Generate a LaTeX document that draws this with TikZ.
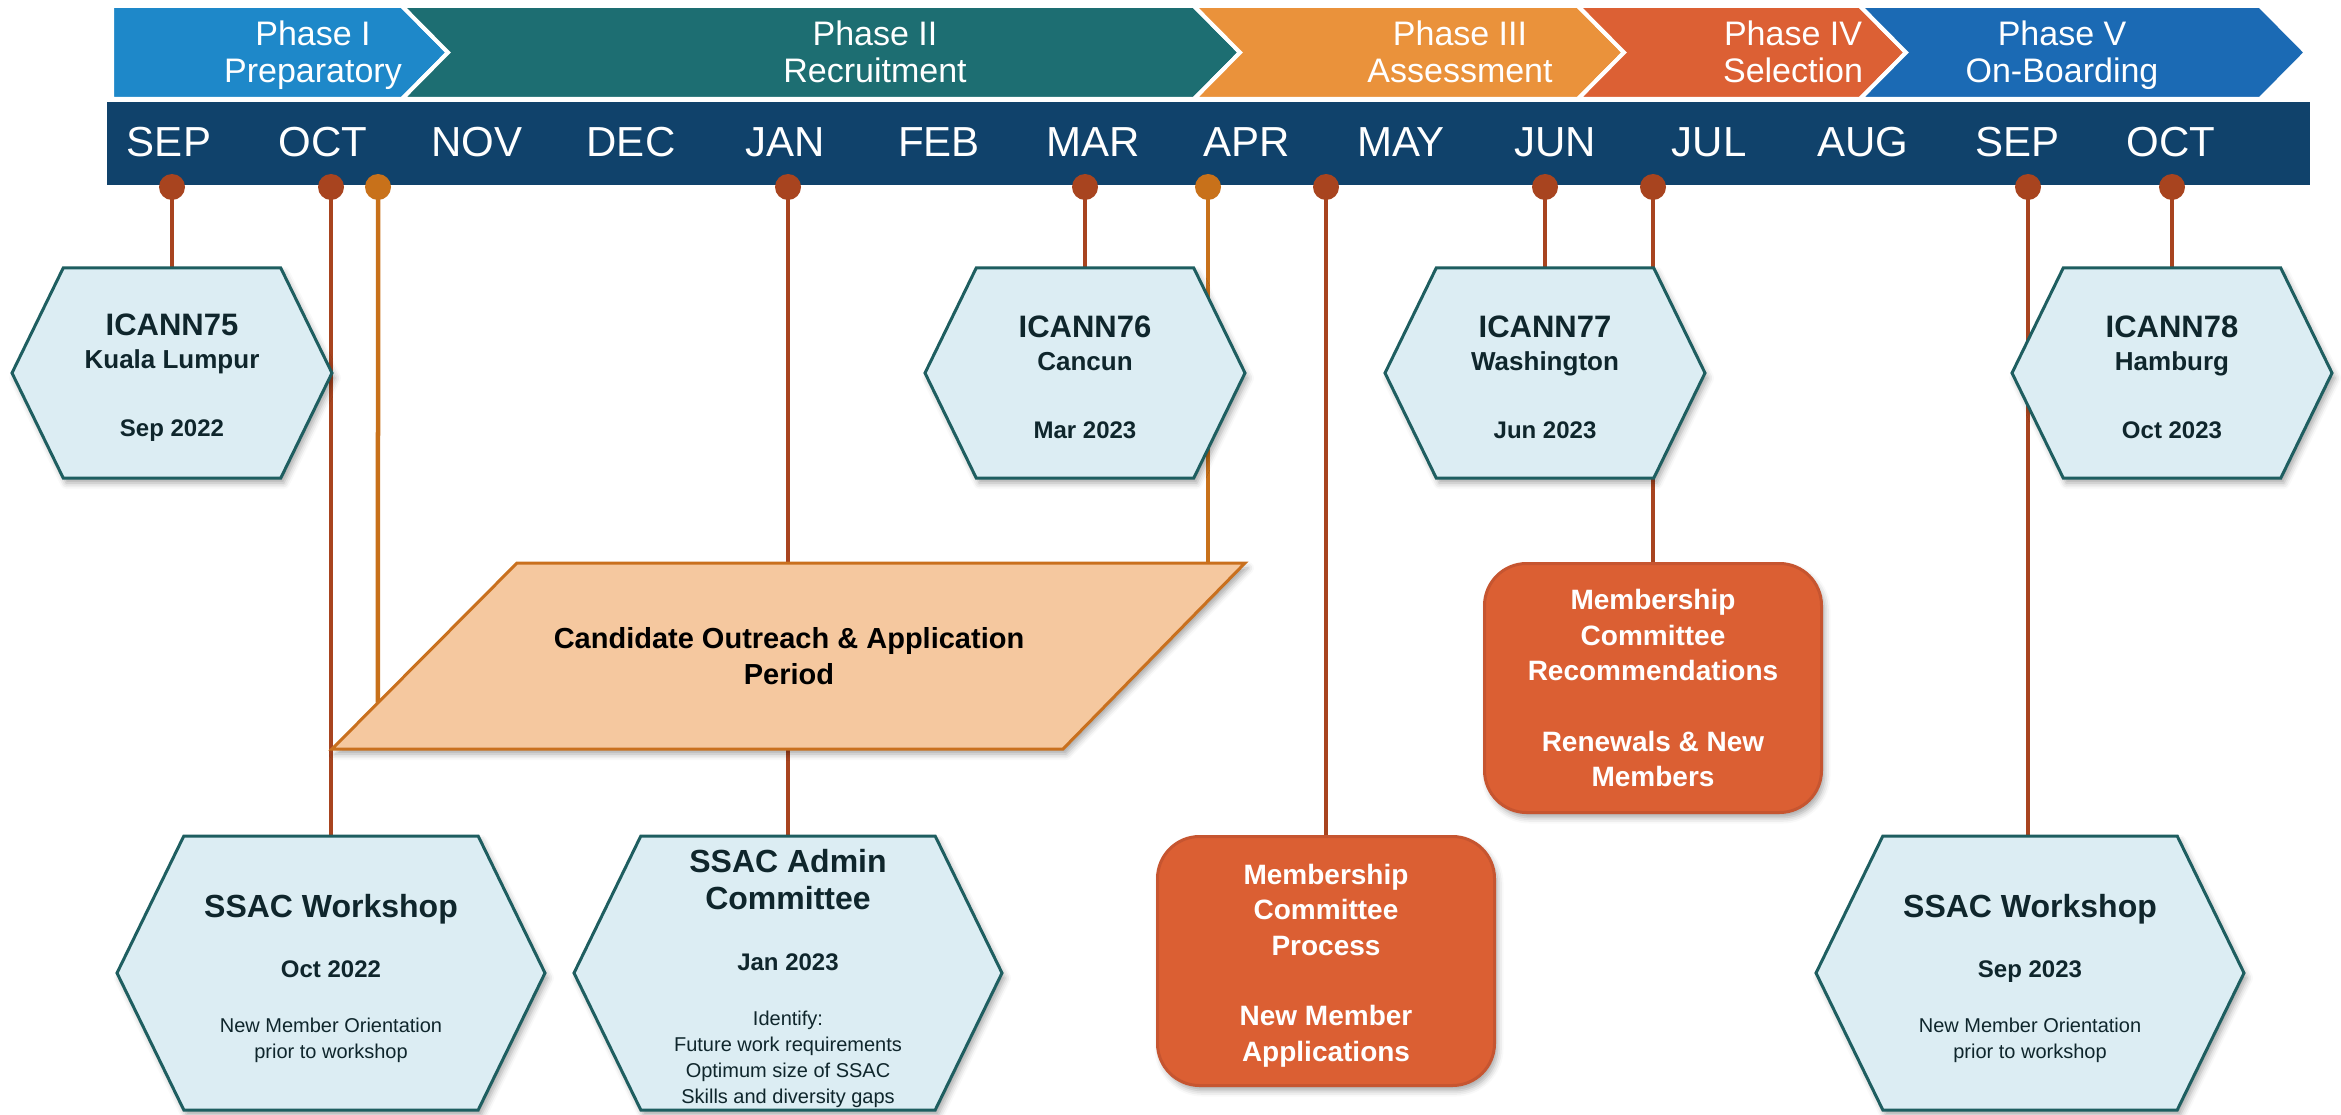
\documentclass[tikz,border=0pt]{standalone}
\usepackage{fontspec}
\setmainfont{Liberation Sans}
\usetikzlibrary{shapes.symbols,shadows.blur}

\definecolor{navy}{HTML}{10426B}
\definecolor{phone}{HTML}{1E88C9}
\definecolor{phtwo}{HTML}{1D6E72}
\definecolor{phthree}{HTML}{EA923B}
\definecolor{phfour}{HTML}{DC6034}
\definecolor{phfive}{HTML}{1B6AB4}
\definecolor{hexfill}{HTML}{DCEDF3}
\definecolor{hexline}{HTML}{1E5E60}
\definecolor{textdark}{HTML}{0F262C}
\definecolor{parafill}{HTML}{F5C89F}
\definecolor{paraline}{HTML}{C9701E}
\definecolor{boxfill}{HTML}{DB5F33}
\definecolor{boxline}{HTML}{C65530}
\definecolor{dotred}{HTML}{A8441F}
\definecolor{dotorange}{HTML}{C8711A}

\pgfdeclarelayer{bg}
\pgfsetlayers{bg,main}

% taller first line, pushes the text block down a little
\newcommand{\highstrut}[1]{\rule{0pt}{#1}}

\tikzset{
  softshadow/.style={blur shadow={shadow xshift=3pt, shadow yshift=-5pt, shadow blur radius=6pt, shadow opacity=35}},
  hexa/.style={shape=signal, signal to=west and east, signal pointer angle=128,
    draw=hexline, line width=3pt, fill=hexfill, text=textdark, inner sep=0pt,
    minimum width=320pt, minimum height=210pt, align=center,
    font=\bfseries\fontsize{24}{33}\selectfont, softshadow},
  bighexa/.style={hexa, minimum width=428pt, minimum height=274pt,
    font=\fontsize{20}{26}\selectfont},
  mcbox/.style={rectangle, rounded corners=42pt, draw=boxline, line width=3pt,
    fill=boxfill, text=white, minimum width=337pt, minimum height=249pt,
    align=center, font=\bfseries\fontsize{28}{35.5}\selectfont, softshadow},
  outreachshape/.style={draw=paraline, line width=3pt, fill=parafill, softshadow},
  outreachtext/.style={align=center, font=\bfseries\fontsize{29}{36}\selectfont},
  phaselabel/.style={text=white, align=center, font=\fontsize{34}{37}\selectfont},
  monthlabel/.style={text=white, anchor=base, font=\fontsize{42}{42}\selectfont},
  mdot/.style={circle, fill=dotred, minimum size=26pt, inner sep=0pt},
  odot/.style={mdot, fill=dotorange},
  redline/.style={draw=dotred, line width=4.5pt},
  orangeline/.style={draw=dotorange, line width=4.5pt}
}

\begin{document}
\begin{tikzpicture}[x=1pt,y=-1pt]
\useasboundingbox (0,0) rectangle (2341,1115);

% phases
\filldraw[fill=phone, draw=white, line width=4pt] (112,6) -- (402,6) -- (448,52.5) -- (402,99) -- (112,99) -- cycle;
\filldraw[fill=phtwo, draw=white, line width=4pt] (402,6) -- (1194,6) -- (1240,52.5) -- (1194,99) -- (402,99) -- (448,52.5) -- cycle;
\filldraw[fill=phthree, draw=white, line width=4pt] (1194,6) -- (1578,6) -- (1624,52.5) -- (1578,99) -- (1194,99) -- (1240,52.5) -- cycle;
\filldraw[fill=phfour, draw=white, line width=4pt] (1578,6) -- (1860,6) -- (1906,52.5) -- (1860,99) -- (1578,99) -- (1624,52.5) -- cycle;
\filldraw[fill=phfive, draw=white, line width=4pt] (1860,6) -- (2260,6) -- (2306,52.5) -- (2260,99) -- (1860,99) -- (1906,52.5) -- cycle;

\node[phaselabel] (phaseone) at (313,55) {Phase I\\Preparatory\vphantom{y}};
\node[phaselabel] (phasetwo) at (875,55) {Phase II\\Recruitment\vphantom{y}};
\node[phaselabel] (phasethree) at (1460,55) {Phase III\\Assessment\vphantom{y}};
\node[phaselabel] (phasefour) at (1793,55) {Phase IV\\Selection\vphantom{y}};
\node[phaselabel] (phasefive) at (2062,55) {Phase V\\On-Boarding\vphantom{y}};

% months
\fill[navy] (107,102) rectangle (2310,185);
\foreach \m [count=\i from 0] in {SEP,OCT,NOV,DEC,JAN,FEB,MAR,APR,MAY,JUN,JUL,AUG,SEP,OCT}
  \node[monthlabel] (month\i) at ({169+154*\i},157) {\m};

\node[mdot] (sepdot) at (172,187) {};
\node[mdot] (octdot) at (331,187) {};
\node[odot] (octdotb) at (378,187) {};
\node[mdot] (jandot) at (788,187) {};
\node[mdot] (mardot) at (1085,187) {};
\node[odot] (aprdot) at (1208,187) {};
\node[mdot] (maydot) at (1326,187) {};
\node[mdot] (jundot) at (1545,187) {};
\node[mdot] (juldot) at (1653,187) {};
\node[mdot] (sepdotb) at (2028,187) {};
\node[mdot] (octdotc) at (2172,187) {};

% meetings
\node[hexa] (icann75) at (172,373) {\highstrut{31pt}{\fontsize{31}{31}\selectfont ICANN75}\\{\fontsize{26}{26}\selectfont Kuala Lumpur}\\[35pt]Sep 2022};
\node[hexa] (icann76) at (1085,373) {\highstrut{31pt}{\fontsize{31}{31}\selectfont ICANN76}\\{\fontsize{26}{26}\selectfont Cancun}\\[35pt]Mar 2023};
\node[hexa] (icann77) at (1545,373) {\highstrut{31pt}{\fontsize{31}{31}\selectfont ICANN77}\\{\fontsize{26}{26}\selectfont Washington}\\[35pt]Jun 2023};
\node[hexa] (icann78) at (2172,373) {\highstrut{31pt}{\fontsize{31}{31}\selectfont ICANN78}\\{\fontsize{26}{26}\selectfont Hamburg}\\[35pt]Oct 2023};

% outreach period
\coordinate (plowleft) at (332,749);
\coordinate (plowright) at (1063,749);
\coordinate (pupright) at (1245,563);
\coordinate (pupleft) at (517,563);
\filldraw[outreachshape] (plowleft) -- (plowright) -- (pupright) -- (pupleft) -- cycle;
\node[outreachtext] (period) at (789,656) {Candidate Outreach \& Application\\Period};

\node[bighexa] (workshopa) at (331,973) {\highstrut{35pt}{\bfseries\fontsize{32}{32}\selectfont SSAC Workshop}\\[34pt]{\bfseries\fontsize{24}{24}\selectfont Oct 2022}\\[29pt]New Member Orientation\\prior to workshop};
\node[bighexa] (admin) at (788,973) {\highstrut{35pt}{\bfseries\fontsize{32}{32}\selectfont SSAC Admin}\\[11pt]{\bfseries\fontsize{32}{32}\selectfont Committee}\\[35pt]{\bfseries\fontsize{24}{24}\selectfont Jan 2023}\\[29pt]Identify:\\Future work requirements\\Optimum size of SSAC\\Skills and diversity gaps};
\node[bighexa] (workshopb) at (2030,973) {\highstrut{35pt}{\bfseries\fontsize{32}{32}\selectfont SSAC Workshop}\\[34pt]{\bfseries\fontsize{24}{24}\selectfont Sep 2023}\\[29pt]New Member Orientation\\prior to workshop};

\node[mcbox] (process) at (1326,961) {\highstrut{29pt}Membership\\Committee\\Process\\[35pt]New Member\\Applications};
\node[mcbox] (recommend) at (1653,688) {Membership\\Committee\\Recommendations\\[35pt]Renewals \& New\\Members};

% connectors
\begin{pgfonlayer}{bg}
\draw[redline] (sepdot.center) -- (sepdot.center |- icann75.center);
\draw[redline] (octdot.center) -- (octdot.center |- workshopa.center);
\coordinate (octlow) at (octdotb.center |- plowleft);
\draw[orangeline] (octdotb.center) -- (intersection of octdotb.center--octlow and plowleft--pupleft);
\draw[redline] (jandot.center) -- (jandot.center |- admin.center);
\draw[redline] (mardot.center) -- (mardot.center |- icann76.center);
\draw[orangeline] (aprdot.center) -- (aprdot.center |- pupright);
\draw[redline] (maydot.center) -- (maydot.center |- process.center);
\draw[redline] (jundot.center) -- (jundot.center |- icann77.center);
\draw[redline] (juldot.center) -- (juldot.center |- recommend.center);
\draw[redline] (sepdotb.center) -- (sepdotb.center |- workshopb.center);
\draw[redline] (octdotc.center) -- (octdotc.center |- icann78.center);
\end{pgfonlayer}
\end{tikzpicture}
\end{document}
